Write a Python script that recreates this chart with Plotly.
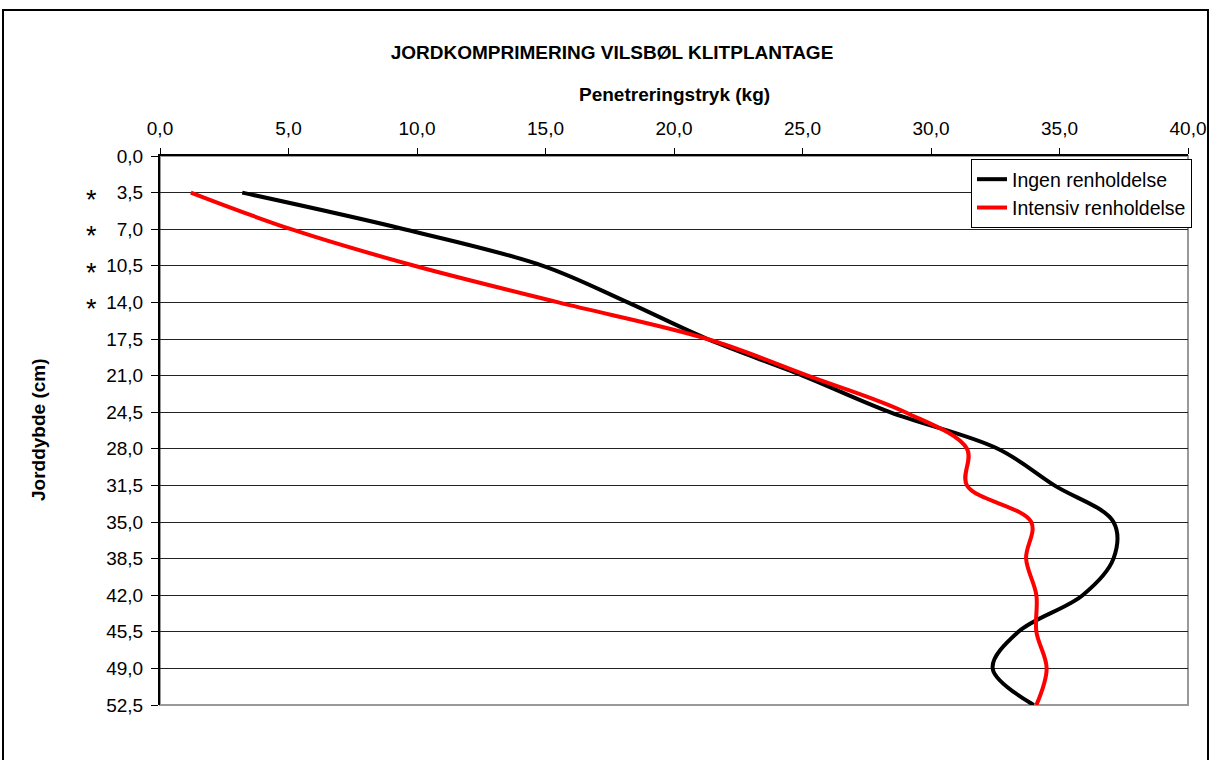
import plotly.graph_objects as go

# depth (cm) and penetration resistance (kg)
depth = [3.5, 7.0, 10.5, 14.0, 17.5, 21.0, 24.5, 28.0, 31.5, 35.0, 38.5, 42.0, 45.5, 49.0, 52.5]
ingen = [3.2, 9.5, 14.9, 18.2, 21.3, 25.0, 28.4, 32.6, 34.8, 37.1, 37.1, 35.9, 33.4, 32.4, 34.0]
intensiv = [1.2, 5.1, 9.9, 15.5, 21.3, 25.2, 29.0, 31.4, 31.4, 33.9, 33.7, 34.1, 34.1, 34.5, 34.1]

y_ticks = [0.0, 3.5, 7.0, 10.5, 14.0, 17.5, 21.0, 24.5, 28.0, 31.5, 35.0, 38.5, 42.0, 45.5, 49.0, 52.5]
y_labels = [f"{v:.1f}".replace(".", ",") for v in y_ticks]
starred = [3.5, 7.0, 10.5, 14.0]

FONT = "Liberation Sans, Arial, sans-serif"
W, H = 1209, 760
L, R, T, B = 160, 21, 156, 55
pw, ph = W - L - R, H - T - B


def px_x(x):
    return (x - L) / pw


def px_y(y):
    return (T + ph - y) / ph


fig = go.Figure()
fig.add_trace(go.Scatter(
    x=ingen, y=depth, name="Ingen renholdelse", mode="lines",
    line=dict(color="black", width=4, shape="spline", smoothing=1.0),
))
fig.add_trace(go.Scatter(
    x=intensiv, y=depth, name="Intensiv renholdelse", mode="lines",
    line=dict(color="#ff0000", width=4, shape="spline", smoothing=1.0),
))

# asterisks marking significant depths
for d in starred:
    fig.add_annotation(x=px_x(91), xref="paper", y=d, yref="y", text="*",
                       xanchor="center", yanchor="middle",
                       showarrow=False, font=dict(size=27, color="black", family=FONT),
                       yshift=-7)

# axis titles
fig.add_annotation(x=px_x(674), xref="paper", y=px_y(95), yref="paper", showarrow=False,
                   xanchor="center", yanchor="middle",
                   text="<b>Penetreringstryk (kg)</b>", font=dict(size=19))
fig.add_annotation(x=px_x(38), xref="paper", y=px_y(430), yref="paper", showarrow=False,
                   xanchor="center", yanchor="middle",
                   text="<b>Jorddybde (cm)</b>", textangle=-90, font=dict(size=19))

# gray plot-area border, then the outer chart frame
fig.add_shape(type="rect", xref="paper", yref="paper", x0=0, x1=1, y0=0, y1=1,
              line=dict(color="#999999", width=2), layer="below")
fig.add_shape(type="rect", xref="paper", yref="paper",
              x0=px_x(3), x1=px_x(1208), y0=px_y(H + 20), y1=px_y(10),
              line=dict(color="black", width=2))

fig.update_layout(
    width=W, height=H,
    paper_bgcolor="white", plot_bgcolor="white",
    margin=dict(l=L, r=R, t=T, b=B, autoexpand=False),
    separators=",.",
    font=dict(family=FONT, color="black", size=19),
    title=dict(text="<b>JORDKOMPRIMERING VILSBØL KLITPLANTAGE</b>", x=612 / W, xanchor="center",
               y=1 - 52 / H, yanchor="middle", font=dict(size=19)),
    showlegend=True,
    legend=dict(x=px_x(971), y=px_y(159), xanchor="left", yanchor="top",
                bgcolor="white", bordercolor="black", borderwidth=1,
                font=dict(size=19.5), tracegroupgap=0, itemwidth=30),
    xaxis=dict(side="top", range=[0, 40], tickvals=[0, 5, 10, 15, 20, 25, 30, 35, 40],
               tickformat=".1f", showgrid=False, zeroline=False, automargin=False,
               showline=True, linecolor="black", linewidth=2,
               ticks="outside", ticklen=6, tickcolor="black", tickfont=dict(size=19),
               ticklabelstandoff=5),
    yaxis=dict(range=[52.5, 0], tickvals=y_ticks, ticktext=y_labels, automargin=False,
               showgrid=True, gridcolor="#222222", gridwidth=1, zeroline=False,
               showline=True, linecolor="black", linewidth=2,
               ticks="outside", ticklen=7, tickcolor="black", tickfont=dict(size=19),
               ticklabelstandoff=4),
)

fig.write_html("out.html", config={"displayModeBar": False},
               post_script="document.body.style.margin='0px';")
